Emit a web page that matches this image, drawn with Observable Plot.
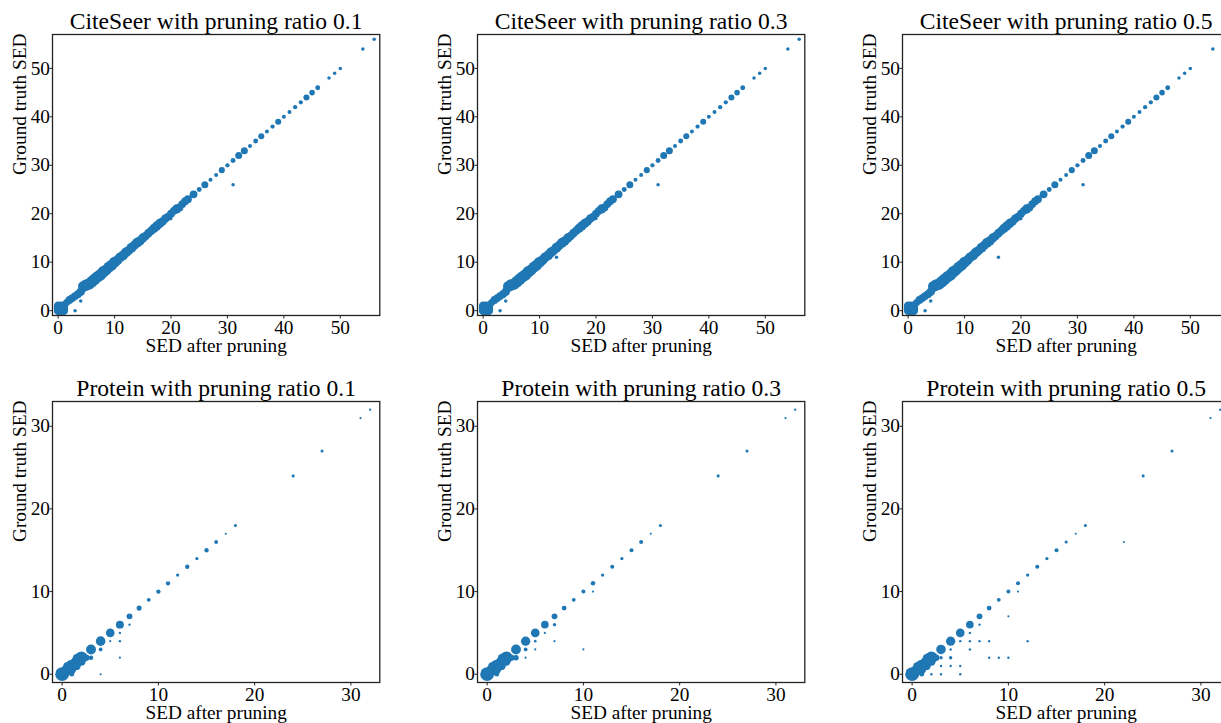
<!DOCTYPE html>
<html>
<head>
<meta charset="utf-8">
<script src="https://cdn.jsdelivr.net/npm/d3@7"></script>
<script src="https://cdn.jsdelivr.net/npm/@observablehq/plot@0.6"></script>
<style>
  html, body { margin: 0; padding: 0; background: #fff; overflow: hidden; }
  #fig { position: relative; width: 1221px; height: 723px; overflow: hidden; background: #fff; }
  .panel { position: absolute; }
  .panel svg { max-width: none !important; background: transparent !important; }
</style>
</head>
<body>
<div id="fig"></div>
<script>
// ---------- data ----------
const citeseerTicks = [0, 10, 20, 30, 40, 50];
const proteinTicks = [0, 10, 20, 30];
const citeseerLimits = [-1, 57];
const proteinLimits = [-1, 33];
const xLabel = "SED after pruning";
const yLabel = "Ground truth SED";

// [SED after pruning, ground truth SED, count]
const citeseerBand = [
  [0,0,6],[0.5,0,6],[1,0,6],[0,0.5,6],[0.5,0.5,6],[1,0.5,6],[0,1,6],[0.5,1,6],[1,1,6],
  [1.5,1.7,4],[2,2.2,5],[2.5,2.6,5],[3,3,5],[3.5,3.4,5],[4,3.9,6],
  [4.5,5,10],[5,5.3,11],[5.5,5.5,11],[6,6,11],[6.5,6.5,11],[7,7,11],[7.5,7.4,11],[8,8,11],
  [8.5,8.4,10],[9,9,10],[9.5,9.4,10],[10,10,10],
  [10.5,10.4,8],[11,11,8],[11.5,11.4,8],[12,12,8],[12.5,12.4,7],[13,13,8],[13.5,13.5,7],
  [14,14,8],[14.5,14.4,7],[15,15,7],[15.5,15.4,6],[16,16,6],[16.5,16.5,6],[17,17,7],
  [17.5,17.5,7],[18,18,7],[18.5,18.4,6],[19,19,6],[19.5,19.4,5],[20,20,5],[20.5,20.6,5],
  [21,21,7],[21.5,21.3,5],[22,22,5],[22.5,22.6,5]
];
const citeseer01Sparse = [
  [23,23,5],[24,24,5],[25,25,2],[26,26,4],[27,27,1.3],[28,28,1.3],[29,29,3],[30,30,1.5],[31,31,2],
  [32,32,4],[33,33,4],[34,34,1.3],[35,35,2],[36,36,3],[37,37,1.3],[38,38,1.5],[39,39,3],[40,40,1.3],
  [41,41,1.3],[42,42,1.5],[43,43,1.5],[44,44,3],[45,45,2.5],[46,46,2],[48,48,1],[49,49,1],[50,50,1],
  [54,54,1],[56,56,1],[31,26,1],[4,2,1],[3,0,1],[20,19,0.8]
];
const citeseer03Sparse = [
  [23,23,5],[24,24,5],[25,25,2],[26,26,4],[27,27,1.3],[28,28,1.3],[29,29,3],[30,30,1.5],[31,31,2],
  [32,32,4],[33,33,4],[34,34,1.3],[35,35,2],[36,36,3],[37,37,1.3],[38,38,1.5],[39,39,3],[40,40,1.3],
  [41,41,1.3],[42,42,1.5],[43,43,1.5],[44,44,3],[45,45,2.5],[46,46,2],[48,48,1],[49,49,1],[50,50,1],
  [54,54,1],[56,56,1],[31,26,1],[4,2,1],[3,0,1],[20,19,0.8],[13,11,1]
];
const citeseer05Sparse = [
  [23,23,5],[24,24,5],[25,25,2],[26,26,4],[27,27,1.3],[28,28,1.3],[29,29,3],[30,30,1.5],[31,31,2],
  [32,32,4],[33,33,4],[34,34,1.3],[35,35,2],[36,36,3],[37,37,1.3],[38,38,1.5],[39,39,3],[40,40,1.3],
  [41,41,1.3],[42,42,1.5],[43,43,1.5],[44,44,3],[45,45,2.5],[46,46,2],[48,48,1],[49,49,1],[50,50,1],
  [54,54,1],[31,26,1],[16,11,1],[4,2,1],[3,0,1],[20,19,0.8]
];
const protein01 = [
  [0,0,33],[0.5,0.5,22],[1,1,27],[1.5,1.5,22],[2,2,26],[1,0.5,12],[1.5,1,12],[2,1.5,11],[1,0,4],[2.5,2,7],
  [0.5,1,9],[1.5,2,9],
  [3,3,17],[4,4,16],[5,5,13],[6,6,11],[7,7,6],[8,8,4.5],[9,9,2.5],[10,10,3.3],[11,11,3.3],[12,12,1.8],
  [13,13,3.3],[14,14,1.8],[15,15,3.3],[16,16,2.5],[17,17,0.8],[18,18,1.6],[24,24,1.6],[27,27,1.6],[31,31,0.9],[32,32,0.9],
  [7,6,1],[6,5,1],[5,4,0.8],[6,4,1],[4,3,2.5],[3,2,3.5],[6,2,0.8],[4,0,0.8]
];
const protein03 = [
  [0,0,33],[0.5,0.5,22],[1,1,27],[1.5,1.5,22],[2,2,26],[1,0.5,12],[1.5,1,12],[2,1.5,11],[1,0,4],[2.5,2,7],
  [0.5,1,9],[1.5,2,9],
  [3,3,17],[4,4,15],[5,5,13],[6,6,10],[7,7,6],[8,8,4],[9,9,2.5],[10,10,2.8],[11,11,3.5],[12,12,1.8],
  [13,13,2.8],[14,14,1.8],[15,15,2.8],[16,16,2.8],[17,17,0.8],[18,18,1.6],[24,24,1.6],[27,27,1.6],[31,31,0.9],[32,32,0.9],
  [11,10,0.8],[7,6,2],[6,5,0.8],[5,4,1.2],[7,4,0.8],[4,3,2.5],[5,3,0.8],[10,3,0.8],[3,2,5],[4,2,0.8]
];
const protein05 = [
  [0,0,33],[0.5,0.5,22],[1,1,27],[1.5,1.5,22],[2,2,26],[1,0.5,12],[1.5,1,12],[2,1.5,11],[1,0,4],[2.5,2,7],
  [0.5,1,9],[1.5,2,9],
  [3,3,16],[4,4,15],[5,5,13],[6,6,10],[7,7,6],[8,8,4],[9,9,2.5],[10,10,2.8],[11,11,2.8],[12,12,1.8],
  [13,13,2.8],[14,14,1.8],[15,15,2.8],[16,16,1.8],[17,17,0.8],[18,18,1.6],[22,16,0.8],[24,24,1.6],[27,27,1.6],[31,31,0.9],[32,32,0.9],
  [11,10,0.8],[10,7,0.8],[7,6,1],[6,5,1],[5,4,1],[6,4,1],[7,4,1],[8,4,1],[12,4,1],[4,3,1],[6,3,1],
  [3,2,2],[4,2,2],[8,2,1],[9,2,1],[10,2,1],[3,1,1],[4,1,1],[5,1,1],[2,0,1],[3,0,1],[5,0,1]
];

// radius (px) per sqrt(count) for each dataset
const citeseerRadiusUnit = 1.75;
const proteinRadiusUnit = 1.2;

const panels = [
  {title: "CiteSeer with pruning ratio 0.1", data: citeseerBand.concat(citeseer01Sparse), lim: citeseerLimits, ticks: citeseerTicks, rk: citeseerRadiusUnit, col: 0, row: 0},
  {title: "CiteSeer with pruning ratio 0.3", data: citeseerBand.concat(citeseer03Sparse), lim: citeseerLimits, ticks: citeseerTicks, rk: citeseerRadiusUnit, col: 1, row: 0},
  {title: "CiteSeer with pruning ratio 0.5", data: citeseerBand.concat(citeseer05Sparse), lim: citeseerLimits, ticks: citeseerTicks, rk: citeseerRadiusUnit, col: 2, row: 0},
  {title: "Protein with pruning ratio 0.1", data: protein01, lim: proteinLimits, ticks: proteinTicks, rk: proteinRadiusUnit, col: 0, row: 1},
  {title: "Protein with pruning ratio 0.3", data: protein03, lim: proteinLimits, ticks: proteinTicks, rk: proteinRadiusUnit, col: 1, row: 1},
  {title: "Protein with pruning ratio 0.5", data: protein05, lim: proteinLimits, ticks: proteinTicks, rk: proteinRadiusUnit, col: 2, row: 1}
];

// ---------- layout ----------
const frameLefts = [52, 476.7, 901.7];
const frameTops = [34, 400.7];
const FW = 327.3, FH = 281;
const mL = 60, mT = 40, mR = 12, mB = 45;
const FONT = "'Liberation Serif', 'Times New Roman', serif";
const FS = 19.3;
const fig = document.getElementById("fig");

for (const p of panels) {
  const chart = Plot.plot({
    width: mL + FW + mR,
    height: mT + FH + mB,
    marginLeft: mL, marginTop: mT, marginRight: mR, marginBottom: mB,
    style: {fontFamily: FONT, fontSize: FS + "px", color: "#000", background: "transparent", overflow: "visible"},
    x: {domain: p.lim, label: null},
    y: {domain: p.lim, label: null},
    r: {type: "identity"},
    marks: [
      Plot.dot(p.data, {x: d => d[0], y: d => d[1], r: d => p.rk * Math.sqrt(d[2]), fill: "#1f77b4", stroke: null, clip: true}),
      Plot.axisX({ticks: p.ticks, tickSize: 3.5, tickPadding: 1.5, fontSize: FS, label: null, fill: "#000", stroke: "#222"}),
      Plot.axisY({ticks: p.ticks, tickSize: 2.5, tickPadding: 0, fontSize: FS, label: null, fill: "#000", stroke: "#222"}),
      Plot.frame({stroke: "#222", strokeWidth: 1.3}),
      Plot.text([p.title], {frameAnchor: "top", lineAnchor: "bottom", dy: -5, fontSize: 23.6, fill: "#000"}),
      Plot.text([xLabel], {frameAnchor: "bottom", lineAnchor: "bottom", dy: 37, fontSize: FS, fill: "#000"}),
      Plot.text([yLabel], {frameAnchor: "left", rotate: -90, lineAnchor: "bottom", dx: -27, fontSize: FS, fill: "#000"})
    ]
  });
  const div = document.createElement("div");
  div.className = "panel";
  div.style.left = (frameLefts[p.col] - mL) + "px";
  div.style.top = (frameTops[p.row] - mT) + "px";
  div.appendChild(chart);
  fig.appendChild(div);
}
</script>
</body>
</html>
